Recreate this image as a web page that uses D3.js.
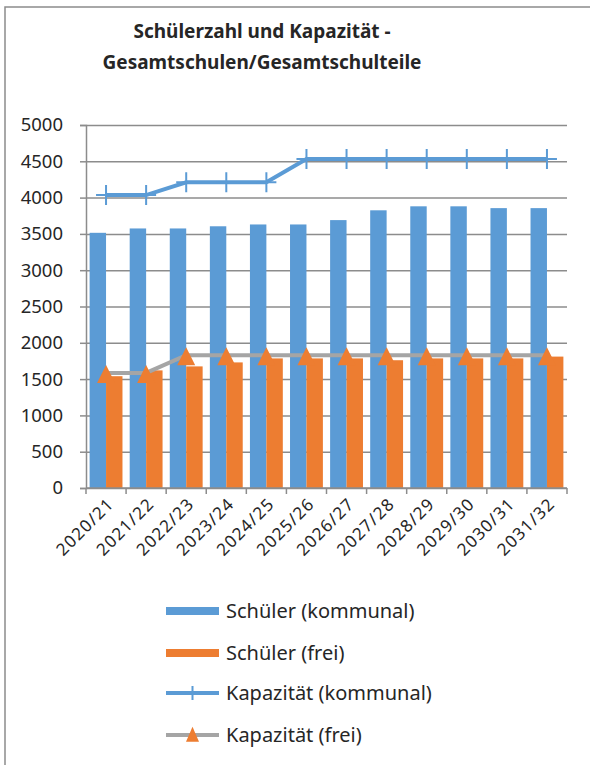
<!DOCTYPE html>
<html>
<head>
<meta charset="utf-8">
<script src="https://cdn.jsdelivr.net/npm/d3@7"></script>
<style>
  body { margin: 0; background: #fff; }
  svg { display: block; font-family: "Noto Sans", "Open Sans", sans-serif; }
</style>
</head>
<body>
<div id="chart"></div>
<script>
// chart values
var years = ["2020/21", "2021/22", "2022/23", "2023/24", "2024/25", "2025/26",
             "2026/27", "2027/28", "2028/29", "2029/30", "2030/31", "2031/32"];
var schuelerKommunal = [3515, 3575, 3575, 3605, 3630, 3630, 3690, 3825, 3880, 3880, 3855, 3855];
var schuelerFrei = [1540, 1620, 1675, 1730, 1785, 1785, 1785, 1760, 1785, 1785, 1785, 1810];
var kapKommunal = [4035, 4035, 4210, 4210, 4210, 4530, 4530, 4530, 4530, 4530, 4530, 4530];
var kapFrei = [1585, 1585, 1830, 1830, 1830, 1830, 1830, 1830, 1830, 1830, 1830, 1830];
var yTicks = [0, 500, 1000, 1500, 2000, 2500, 3000, 3500, 4000, 4500, 5000];
var titleLines = ["Schülerzahl und Kapazität -", "Gesamtschulen/Gesamtschulteile"];
var legendLabels = ["Schüler (kommunal)", "Schüler (frei)", "Kapazität (kommunal)", "Kapazität (frei)"];

var blue = "#5b9bd5", orange = "#ed7d31", gray = "#a5a5a5", textColor = "#262626";

var W = 590, H = 765;
var plot = {left: 86, right: 567, top: 125, bottom: 488};

var svg = d3.select("#chart").append("svg")
    .attr("width", W)
    .attr("height", H);

// outer frame
svg.append("rect")
    .attr("x", 5).attr("y", 7)
    .attr("width", W + 10).attr("height", H + 10)
    .attr("fill", "none")
    .attr("stroke", "#8c8c8c")
    .attr("stroke-width", 1.5);

// title
svg.append("text")
    .attr("text-anchor", "middle")
    .attr("font-weight", "bold")
    .attr("font-size", 19)
    .attr("fill", textColor)
    .selectAll("tspan")
    .data(titleLines)
    .join("tspan")
      .attr("x", 262)
      .attr("y", (d, i) => 38 + i * 31)
      .text(d => d);

var x0 = d3.scaleBand()
    .domain(years)
    .range([plot.left, plot.right])
    .paddingInner(0.18)
    .paddingOuter(0.09);

var x1 = d3.scaleBand()
    .domain(["kommunal", "frei"])
    .range([0, x0.bandwidth()]);

var y = d3.scaleLinear()
    .domain([0, 5000])
    .range([plot.bottom, plot.top]);

function cx(d) { return x0(d) + x0.bandwidth() / 2; }

// y axis with gridlines
svg.append("g")
    .attr("transform", "translate(" + plot.left + ",0)")
    .call(d3.axisLeft(y).tickValues(yTicks).tickFormat(d3.format("d")).tickSize(6).tickPadding(17))
    .call(g => g.select(".domain").attr("stroke", "#8c8c8c").attr("stroke-width", 1.5))
    .call(g => g.selectAll(".tick line").attr("stroke", "#8c8c8c").attr("stroke-width", 1.5))
    .call(g => g.selectAll(".tick line").clone()
        .attr("x2", plot.right - plot.left))
    .call(g => g.selectAll(".tick text")
        .attr("font-size", 18.5)
        .attr("font-family", "'Noto Sans', sans-serif")
        .attr("fill", textColor));

// bars
var bars = svg.append("g");
bars.selectAll(".blue")
  .data(years)
  .join("rect")
    .attr("x", (d) => x0(d) + x1("kommunal"))
    .attr("y", (d, i) => y(schuelerKommunal[i]))
    .attr("width", x1.bandwidth())
    .attr("height", (d, i) => y(0) - y(schuelerKommunal[i]))
    .attr("fill", blue);
bars.selectAll(".orange")
  .data(years)
  .join("rect")
    .attr("x", (d) => x0(d) + x1("frei"))
    .attr("y", (d, i) => y(schuelerFrei[i]))
    .attr("width", x1.bandwidth())
    .attr("height", (d, i) => y(0) - y(schuelerFrei[i]))
    .attr("fill", orange);

// x axis: ticks between categories
var edges = d3.range(years.length + 1).map(i => plot.left + i * x0.step());
var xAxis = svg.append("g");
xAxis.append("line")
    .attr("x1", plot.left).attr("x2", plot.right)
    .attr("y1", plot.bottom).attr("y2", plot.bottom)
    .attr("stroke", "#8c8c8c").attr("stroke-width", 1.5);
xAxis.selectAll(".xt")
  .data(edges)
  .join("line")
    .attr("x1", d => d).attr("x2", d => d)
    .attr("y1", plot.bottom).attr("y2", plot.bottom + 6)
    .attr("stroke", "#8c8c8c").attr("stroke-width", 1.5);
xAxis.selectAll("text")
  .data(years)
  .join("text")
    .attr("text-anchor", "end")
    .attr("font-size", 17)
    .attr("letter-spacing", 1.2)
    .attr("fill", textColor)
    .attr("transform", d => "translate(" + (cx(d) + 9) + "," + (plot.bottom + 17) + ") rotate(-45)")
    .text(d => d);

// capacity lines
var line = d3.line()
    .x((d, i) => cx(years[i]))
    .y(d => y(d));

svg.append("path")
    .datum(kapKommunal)
    .attr("fill", "none")
    .attr("stroke", blue)
    .attr("stroke-width", 4)
    .attr("d", line);

svg.append("path")
    .datum(kapFrei)
    .attr("fill", "none")
    .attr("stroke", gray)
    .attr("stroke-width", 4)
    .attr("d", line);

function plusPath(px, py, s) {
  return "M" + (px - s) + "," + py + "H" + (px + s) + "M" + px + "," + (py - s) + "V" + (py + s);
}
function trianglePath(px, py, w, h) {
  return "M" + px + "," + (py - h * 0.55) + "L" + (px + w / 2) + "," + (py + h * 0.45) + "L" + (px - w / 2) + "," + (py + h * 0.45) + "Z";
}

svg.append("g").selectAll("path")
  .data(kapKommunal)
  .join("path")
    .attr("d", (d, i) => plusPath(cx(years[i]), y(d), 10))
    .attr("stroke", blue)
    .attr("stroke-width", 2);

svg.append("g").selectAll("path")
  .data(kapFrei)
  .join("path")
    .attr("d", (d, i) => trianglePath(cx(years[i]), y(d) + 2, 18, 18))
    .attr("fill", orange);

// legend
var legend = svg.append("g").attr("transform", "translate(166,0)");
var rowY = [611, 653, 693, 735];
legendLabels.forEach(function(label, i) {
  var g = legend.append("g").attr("transform", "translate(0," + rowY[i] + ")");
  if (i < 2) {
    g.append("rect")
      .attr("x", 0).attr("y", -4)
      .attr("width", 53).attr("height", 8)
      .attr("fill", i == 0 ? blue : orange);
  } else if (i == 2) {
    g.append("line").attr("x1", 0).attr("x2", 53)
      .attr("stroke", blue).attr("stroke-width", 4);
    g.append("path").attr("d", plusPath(26.5, 0, 7))
      .attr("stroke", blue).attr("stroke-width", 2);
  } else {
    g.append("line").attr("x1", 0).attr("x2", 53)
      .attr("stroke", gray).attr("stroke-width", 4);
    g.append("path").attr("d", trianglePath(26.5, 0, 13, 15))
      .attr("fill", orange);
  }
  g.append("text")
    .attr("x", 60)
    .attr("y", 6.5)
    .attr("font-size", 20)
    .attr("fill", textColor)
    .text(label);
});
</script>
</body>
</html>
